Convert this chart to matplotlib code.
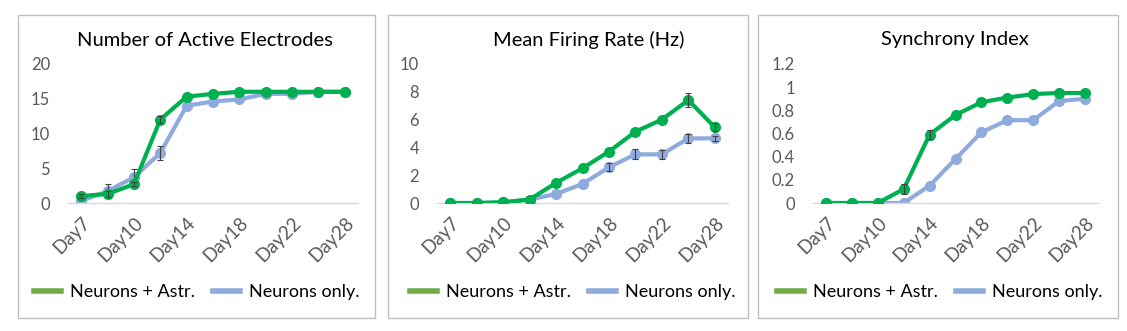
import numpy as np
import matplotlib
matplotlib.use('Agg')
import matplotlib.pyplot as plt
from matplotlib.patches import Rectangle

plt.rcParams['font.family'] = ['Lato', 'DejaVu Sans']

days = ['Day7', 'Day8', 'Day10', 'Day12', 'Day14', 'Day16',
        'Day18', 'Day20', 'Day22', 'Day25', 'Day28']

# active electrodes
elec_astr = [1.0, 1.3, 2.7, 12.0, 15.3, 15.7, 16.0, 16.0, 16.0, 16.0, 16.0]
elec_astr_err = [0.3, 0.4, 0.3, 0.5, 0, 0, 0, 0, 0, 0, 0]
elec_neur = [0.3, 1.7, 3.7, 7.2, 14.0, 14.6, 14.9, 15.7, 15.7, 16.0, 16.0]
elec_neur_err = [0, 1.0, 1.2, 1.0, 0, 0, 0, 0, 0, 0, 0]

# firing rate
mfr_astr = [0.0, 0.0, 0.05, 0.25, 1.45, 2.5, 3.7, 5.13, 6.0, 7.4, 5.45]
mfr_astr_err = [0, 0, 0, 0, 0, 0, 0, 0, 0, 0.5, 0.3]
mfr_neur = [0.0, 0.0, 0.05, 0.25, 0.65, 1.37, 2.57, 3.5, 3.5, 4.65, 4.65]
mfr_neur_err = [0, 0, 0, 0, 0, 0, 0.3, 0.35, 0.3, 0.3, 0.2]

# synchrony
sync_astr = [0, 0, 0, 0.12, 0.59, 0.76, 0.87, 0.91, 0.94, 0.95, 0.95]
sync_astr_err = [0, 0, 0, 0.04, 0.04, 0, 0, 0, 0, 0, 0]
sync_neur = [0, 0, 0, 0.0, 0.15, 0.38, 0.61, 0.715, 0.715, 0.88, 0.90]
sync_neur_err = [0, 0, 0, 0, 0, 0, 0, 0, 0, 0, 0]

titles = ['Number of Active Electrodes', 'Mean Firing Rate (Hz)', 'Synchrony Index']
ylims = [(0, 20), (0, 10), (0, 1.2)]
yticks = [[0, 5, 10, 15, 20], [0, 2, 4, 6, 8, 10], [0, 0.2, 0.4, 0.6, 0.8, 1, 1.2]]
ylabels = [['0', '5', '10', '15', '20'], ['0', '2', '4', '6', '8', '10'],
           ['0', '0.2', '0.4', '0.6', '0.8', '1', '1.2']]
series = [(elec_astr, elec_astr_err, elec_neur, elec_neur_err),
          (mfr_astr, mfr_astr_err, mfr_neur, mfr_neur_err),
          (sync_astr, sync_astr_err, sync_neur, sync_neur_err)]

W, H = 1127, 331
green = '#00B050'
blue = '#8FAADC'

fig = plt.figure(figsize=(W / 100, H / 100), dpi=100)

# pixel geometry of each panel: frame box, axes x-range, title centre, legend centre
frames = [(18, 15, 375, 318), (388, 15, 748, 318), (758, 15, 1118, 318)]
axes_x = [(68, 358), (437, 728), (813, 1098)]
title_x = [205, 589, 955]
legend_x = [197, 573, 940]

x = np.arange(len(days))


def err_bars(ax, y, err, z):
    # only points that actually carry an error get a bar
    y = np.array(y)
    err = np.array(err)
    m = err > 0
    if m.any():
        ax.errorbar(x[m], y[m], yerr=err[m], fmt='none', ecolor='#404040',
                    elinewidth=0.8, capsize=2.5, capthick=0.8, zorder=z)


for i in range(3):
    fx0, fy0, fx1, fy1 = frames[i]
    fig.patches.append(Rectangle((fx0 / W, 1 - fy1 / H), (fx1 - fx0) / W, (fy1 - fy0) / H,
                                 transform=fig.transFigure, fill=False,
                                 edgecolor='#BFBFBF', linewidth=1.0))
    ax0, ax1 = axes_x[i]
    ax = fig.add_axes([ax0 / W, (H - 203) / H, (ax1 - ax0) / W, 139 / H])
    a, a_err, n, n_err = series[i]

    ax.plot(x, n, color=blue, lw=3, marker='o', ms=7, zorder=2, label='Neurons only.')
    err_bars(ax, n, n_err, 3)
    ax.plot(x, a, color=green, lw=3, marker='o', ms=7, zorder=4, label='Neurons + Astr.')
    err_bars(ax, a, a_err, 5)

    ax.set_xlim(-0.5, len(days) - 0.5)
    ax.set_ylim(*ylims[i])
    ax.set_yticks(yticks[i])
    ax.set_yticklabels(ylabels[i])
    ax.set_xticks(x[::2])
    ax.set_xticklabels(days[::2], rotation=45, ha='right', rotation_mode='anchor')
    ax.tick_params(axis='both', length=0, colors='#595959')
    ax.tick_params(axis='y', pad=13, labelsize=12)
    ax.tick_params(axis='x', pad=8, labelsize=13.5)
    for s in ['top', 'right', 'left']:
        ax.spines[s].set_visible(False)
    ax.spines['bottom'].set_color('#D9D9D9')
    ax.spines['bottom'].set_linewidth(1.0)
    ax.patch.set_alpha(0)

    fig.text(title_x[i] / W, 1 - 40 / H, titles[i], ha='center', va='center',
             fontsize=14.5, color='#000000')

    h_a = plt.Line2D([], [], color='#70AD47', lw=4)
    h_n = plt.Line2D([], [], color=blue, lw=4)
    fig.legend([h_a, h_n], ['Neurons + Astr.', 'Neurons only.'], loc='center',
               bbox_to_anchor=(legend_x[i] / W, 1 - 292 / H), ncol=2, frameon=False,
               fontsize=13, handlelength=1.5, handletextpad=0.5, columnspacing=1.0)

fig.savefig('out.png', dpi=100)
